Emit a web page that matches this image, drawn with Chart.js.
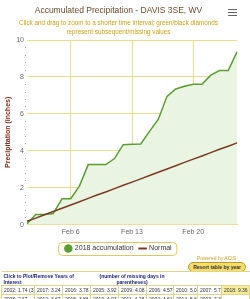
<!DOCTYPE html>
<html><head><meta charset="utf-8">
<script src="https://cdn.jsdelivr.net/npm/chart.js@4/dist/chart.umd.min.js"></script>
<style>
html,body{margin:0;padding:0;background:#fff;}
body{width:250px;height:299px;overflow:hidden;font-family:"Liberation Sans",Arial,sans-serif;position:relative;}
#wrap{position:absolute;left:0;top:0;width:250px;height:262px;}
#menu{position:absolute;left:228px;top:9px;width:9px;}
#menu span{display:block;height:1.4px;background:#666;margin-bottom:1.6px;}
#powered{position:absolute;right:14px;top:255px;font-size:5px;color:#c9a227;}
#tbl{position:absolute;left:0;top:262px;width:250px;}
#btn{position:absolute;right:4px;top:0px;font-size:5px;font-weight:bold;color:#333;background:#f5dd6a;border:1px solid #b99a2a;border-radius:5px;padding:1px 4px;}
table{position:absolute;left:1px;top:9px;width:248px;border-collapse:collapse;table-layout:fixed;font-size:5px;color:#333;}
table td{border:1px solid #e3d48c;padding:1px 2px;white-space:nowrap;overflow:hidden;}
table tr.hd td{border:none;border-top:1px solid #e3d48c;color:#1a237e;font-weight:bold;white-space:normal;vertical-align:top;line-height:6px;padding:1px 2px 0 2px;}
table tr.hd td.mid{text-align:center;}
td.hl{background:#f7ec9c;}
</style></head>
<body>
<div id="wrap"><canvas id="c"></canvas></div>
<div id="menu"><span></span><span></span><span></span></div>
<div id="powered">Powered by ACIS</div>
<div id="tbl"><div id="btn">Resort table by year</div><table id="t"></table></div>
<script>
const dates = ['Feb 1','Feb 2','Feb 3','Feb 4','Feb 5','Feb 6','Feb 7','Feb 8','Feb 9','Feb 10','Feb 11','Feb 12','Feb 13','Feb 14','Feb 15','Feb 16','Feb 17','Feb 18','Feb 19','Feb 20','Feb 21','Feb 22','Feb 23','Feb 24','Feb 25'];
const accum2018 = [0.05,0.55,0.55,0.6,1.4,1.4,2.1,3.25,3.25,3.25,3.58,4.33,4.35,4.37,5.05,5.7,6.95,7.35,7.5,7.6,7.6,8.1,8.35,8.35,9.36];
const normal = [0.18,0.35,0.53,0.71,0.89,1.06,1.24,1.42,1.6,1.77,1.95,2.13,2.3,2.48,2.66,2.84,3.01,3.19,3.37,3.55,3.72,3.9,4.08,4.25,4.43];
const xTickLabels = ['Feb 6','Feb 13','Feb 20'];
const yTicks = [0,2,4,6,8,10];
const tableRow1 = ['2002: 1.74 (3)','2017: 3.24','2016: 3.78','2005: 3.92','2009: 4.08','2006: 4.57','2010: 5.09','2007: 5.71','2018: 9.36'];
const tableRow2 = ['2008: 2.67','2012: 3.67','2015: 3.86','2013: 4.03','2011: 4.28','2004: 4.61','2014: 5.65','2003: 7.33',''];

// table
const t = document.getElementById('t');
const colW = [33,28,28,28,28,27,24,24,28];
let cg = '<colgroup>' + colW.map(w=>'<col style="width:'+w+'px">').join('') + '</colgroup>';
let html = cg + '<tr class="hd"><td colspan="3">Click to Plot/Remove Years of Interest</td><td colspan="3" class="mid">(number of missing days in parentheses)</td><td colspan="3"></td></tr>';
html += '<tr>' + tableRow1.map((s,i)=>'<td'+(s.startsWith('2018')?' class="hl"':'')+'>'+s+'</td>').join('') + '</tr>';
html += '<tr>' + tableRow2.map(s=>'<td>'+s+'</td>').join('') + '</tr>';
t.innerHTML = html;

const GRID = '#ecdc8c';
const GREEN = '#5a9e32';
const BROWN = '#7a3b22';

const minorTicks = {
  id:'minorTicks',
  afterDraw(chart){
    const y = chart.scales.y, ctx = chart.ctx, a = chart.chartArea;
    ctx.save();
    ctx.fillStyle = '#999';
    for (let i=1;i<25;i++){
      if (i%5===0) continue;
      const py = y.getPixelForValue(i*0.4);
      ctx.fillRect(a.left-2, Math.round(py), 1, 1);
    }
    ctx.restore();
  }
};
const legendBox = {
  id:'legendBox',
  afterDraw(chart){
    const l = chart.legend; if(!l||!l.legendHitBoxes.length) return;
    const hb = l.legendHitBoxes;
    let x0=Infinity,x1=-Infinity,y0=Infinity,y1=-Infinity;
    hb.forEach(h=>{x0=Math.min(x0,h.left);x1=Math.max(x1,h.left+h.width);y0=Math.min(y0,h.top);y1=Math.max(y1,h.top+h.height);});
    const ctx=chart.ctx; ctx.save();
    ctx.strokeStyle='#e0c860'; ctx.lineWidth=1;
    ctx.beginPath();
    ctx.roundRect(Math.round(x0-7)+0.5, Math.round(y0-3)+0.5, (x1-x0)+12, (y1-y0)+6, 4);
    ctx.stroke(); ctx.restore();
  }
};

new Chart(document.getElementById('c'), {
  type:'line',
  data:{
    labels:dates,
    datasets:[
      {label:'2018 accumulation', data:accum2018, borderColor:GREEN, borderWidth:1.5, backgroundColor:'#e9f4e2', fill:'origin', pointRadius:0, tension:0, order:1},
      {label:'Normal', data:normal, borderColor:BROWN, borderWidth:1.5, pointRadius:0, fill:false, tension:0, order:0}
    ]
  },
  options:{
    responsive:true, maintainAspectRatio:false, animation:false,
    layout:{padding:{left:0,right:13,top:0,bottom:0}},
    plugins:{
      title:{display:true, text:'Accumulated Precipitation - DAVIS 3SE, WV', color:'#6a4a2a', font:{family:'Liberation Sans', size:8.5, weight:'normal', lineHeight:1.3}, padding:{top:5,bottom:3}},
      subtitle:{display:true, text:['Click and drag to zoom to a shorter time interval; green/black diamonds','represent subsequent/missing values'], color:'#cf9f10', font:{family:'Liberation Sans', size:6.3, lineHeight:1.35}, padding:{top:0,bottom:4}},
      tooltip:{enabled:false},
      legend:{position:'bottom', labels:{
        font:{family:'Liberation Sans', size:7}, color:'#333', usePointStyle:true, boxWidth:6, boxHeight:6, padding:6,
        generateLabels(chart){
          return [
            {text:'2018 accumulation', fillStyle:GREEN, strokeStyle:GREEN, lineWidth:0, pointStyle:'circle', datasetIndex:0, fontColor:'#333'},
            {text:'Normal', fillStyle:BROWN, strokeStyle:BROWN, lineWidth:2, pointStyle:'line', datasetIndex:1, fontColor:'#333'}
          ];
        }
      }}
    },
    scales:{
      x:{
        grid:{drawTicks:false, color:(c)=> (c.tick && xTickLabels.includes(dates[c.tick.value])) ? GRID : 'rgba(0,0,0,0)'},
        border:{display:true, color:GRID},
        ticks:{autoSkip:false, maxRotation:0, padding:3, color:'#666', font:{family:'Liberation Sans', size:7},
          callback:(v,i)=> xTickLabels.includes(dates[i]) ? dates[i] : ''}
      },
      y:{
        min:0, max:10,
        afterBuildTicks:(s)=>{s.ticks = yTicks.map(v=>({value:v}));},
        afterFit:(s)=>{s.width = 27;},
        grid:{drawTicks:false, color:GRID},
        border:{display:false},
        ticks:{padding:3, color:'#666', font:{family:'Liberation Sans', size:7}},
        title:{display:true, text:'Precipitation (inches)', color:'#8a2b1a', font:{family:'Liberation Sans', size:7, weight:'bold'}, padding:{top:4,bottom:0}}
      }
    }
  },
  plugins:[minorTicks, legendBox]
});
</script>
</body></html>
